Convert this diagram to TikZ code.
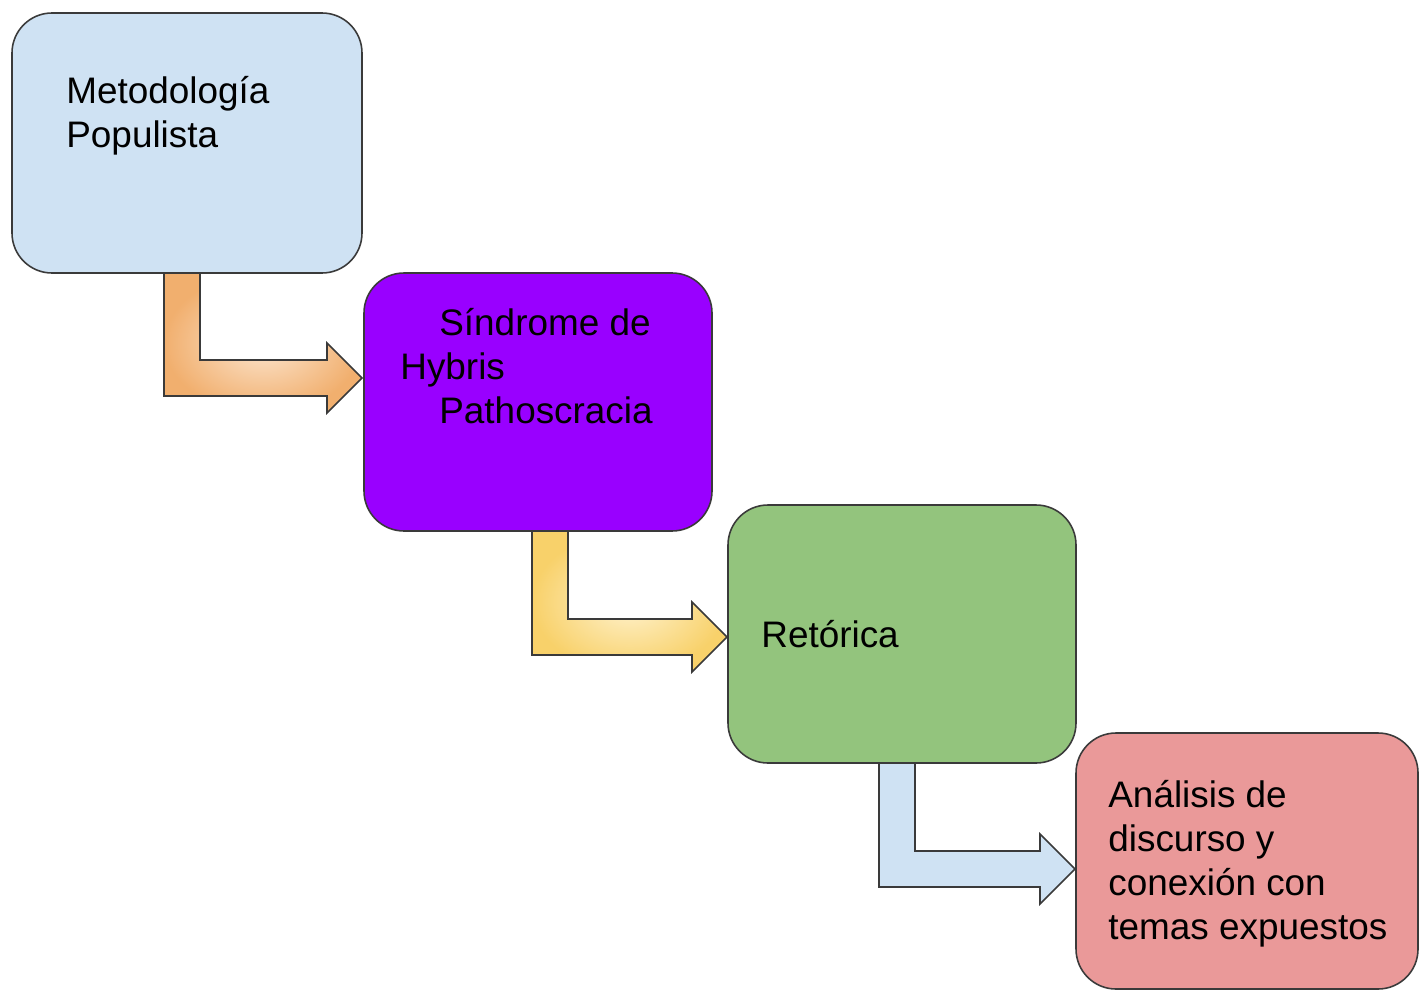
\documentclass[tikz,border=0pt]{standalone}
\usepackage{fontspec}
\setmainfont{Liberation Sans}
\usepackage{tikz}
\usetikzlibrary{calc,positioning,shadings}
\definecolor{edgegray}{HTML}{3A3A3A}
\definecolor{boxblue}{HTML}{CFE2F3}
\definecolor{boxpurple}{HTML}{9900FF}
\definecolor{boxgreen}{HTML}{93C47D}
\definecolor{boxpink}{HTML}{EA9999}
\definecolor{orangeout}{HTML}{F1AF6E}
\definecolor{orangein}{HTML}{FCE6D0}
\definecolor{yellowout}{HTML}{F8D16A}
\definecolor{yellowin}{HTML}{FFF3D0}
\tikzset{
  box/.style={draw=edgegray, line width=0.9pt, rounded corners=0.8cm, inner sep=0pt, outer sep=0pt, minimum width=6.96cm, minimum height=5.16cm},
  txt/.style={anchor=base west, inner sep=0pt, align=left, font=\fontsize{21}{25}\selectfont},
  bent/.style={draw=edgegray, line width=0.9pt}
}
\newcommand{\bentarrow}[3]{%
  \draw[bent, #1] (#2) -- ++(0.72,0) |- ($(#3)+(-0.7,0.36)$) -- ++(0,0.34) -- (#3) -- ++(-0.7,-0.7) -- ++(0,0.34) -| (#2) -- cycle;}

\begin{document}
\begin{tikzpicture}
\useasboundingbox (0,0) rectangle (28.38,-19.8);
\node[box, fill=boxblue, minimum width=7cm, minimum height=5.2cm, anchor=north west] (meto) at (0.24,-0.26) {};
\node[box, fill=boxpurple, below right=0cm and 0.04cm of meto] (sind) {};
\node[box, fill=boxgreen, below right=-0.52cm and 0.32cm of sind] (reto) {};
\node[box, fill=boxpink, minimum width=6.84cm, minimum height=5.12cm, below right=-0.6cm and 0cm of reto] (anal) {};

\node[txt] (meto-txt) at ($(meto.north west)+(1.08,-2.68)$) {Metodología\\Populista};
\node[txt] (sind-txt) at ($(sind.north west)+(0.72,-3.00)$) {\hspace*{0.78cm}Síndrome de\\Hybris\\\hspace*{0.78cm}Pathoscracia};
\node[txt] (reto-txt) at ($(reto.north west)+(0.66,-2.84)$) {Retórica};
\node[txt] (anal-txt) at ($(anal.north west)+(0.64,-4.12)$) {Análisis de\\discurso y\\conexión con\\temas expuestos};

\coordinate (meto-out) at ($(meto.south west)+(3.04,0)$);
\coordinate (sind-in) at ($(sind.north west)+(-0.04,-2.10)$);
\coordinate (sind-out) at ($(sind.south west)+(3.36,0)$);
\coordinate (reto-in) at ($(reto.north west)+(-0.02,-2.64)$);
\coordinate (reto-out) at ($(reto.south west)+(3.02,0)$);
\coordinate (anal-in) at ($(anal.north west)+(-0.02,-2.72)$);

\bentarrow{inner color=orangein, outer color=orangeout}{meto-out}{sind-in}
\bentarrow{inner color=yellowin, outer color=yellowout}{sind-out}{reto-in}
\bentarrow{fill=boxblue}{reto-out}{anal-in}
\end{tikzpicture}
\end{document}
